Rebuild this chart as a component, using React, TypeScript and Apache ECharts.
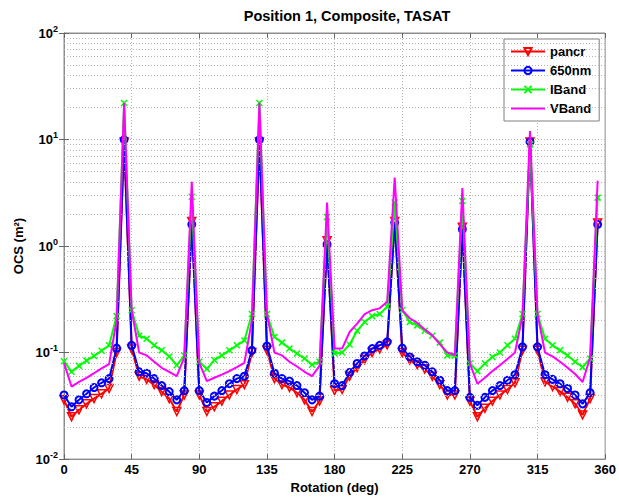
import React, { useEffect, useRef } from "react";
import * as echarts from "echarts";

const angles = [
  0, 5, 10, 15, 20, 25, 30, 35, 40, 45, 50, 55, 60, 65, 70, 75, 80, 85,
  90, 95, 100, 105, 110, 115, 120, 125, 130, 135, 140, 145, 150, 155, 160, 165, 170, 175,
  180, 185, 190, 195, 200, 205, 210, 215, 220, 225, 230, 235, 240, 245, 250, 255, 260, 265,
  270, 275, 280, 285, 290, 295, 300, 305, 310, 315, 320, 325, 330, 335, 340, 345, 350, 355,
];

const pancr = [
  0.036, 0.025, 0.029, 0.033, 0.037, 0.041, 0.046, 0.1, 9.5, 0.108, 0.06, 0.056, 0.05, 0.043, 0.037, 0.028, 0.04, 1.7,
  0.04, 0.028, 0.031, 0.035, 0.04, 0.045, 0.05, 0.1, 9.5, 0.105, 0.057, 0.05, 0.047, 0.042, 0.036, 0.028, 0.035, 1.12,
  0.044, 0.045, 0.06, 0.072, 0.086, 0.1, 0.108, 0.118, 1.7, 0.1, 0.085, 0.077, 0.07, 0.06, 0.05, 0.04, 0.04, 1.5,
  0.035, 0.025, 0.03, 0.035, 0.04, 0.045, 0.052, 0.105, 9.5, 0.105, 0.053, 0.048, 0.043, 0.038, 0.033, 0.026, 0.037, 1.65,
];

const nm650 = [
  0.04, 0.031, 0.036, 0.041, 0.047, 0.052, 0.057, 0.11, 10, 0.117, 0.066, 0.064, 0.057, 0.049, 0.043, 0.036, 0.044, 1.6,
  0.044, 0.034, 0.039, 0.044, 0.051, 0.057, 0.06, 0.105, 10, 0.115, 0.064, 0.057, 0.054, 0.049, 0.042, 0.036, 0.039, 1.04,
  0.051, 0.049, 0.065, 0.079, 0.093, 0.109, 0.117, 0.126, 1.66, 0.11, 0.091, 0.082, 0.076, 0.066, 0.055, 0.044, 0.044, 1.44,
  0.038, 0.032, 0.038, 0.044, 0.049, 0.055, 0.062, 0.113, 9.5, 0.113, 0.062, 0.056, 0.051, 0.046, 0.04, 0.033, 0.042, 1.6,
];

const iband = [
  0.083, 0.066, 0.075, 0.084, 0.093, 0.104, 0.117, 0.22, 22, 0.25, 0.144, 0.135, 0.117, 0.105, 0.092, 0.076, 0.094, 2.9,
  0.082, 0.07, 0.085, 0.094, 0.105, 0.117, 0.13, 0.23, 22, 0.23, 0.14, 0.124, 0.109, 0.098, 0.088, 0.077, 0.082, 1.87,
  0.098, 0.1, 0.119, 0.16, 0.194, 0.22, 0.23, 0.27, 2.56, 0.25, 0.194, 0.18, 0.16, 0.144, 0.124, 0.094, 0.094, 2.65,
  0.079, 0.067, 0.079, 0.091, 0.1, 0.117, 0.135, 0.23, 9, 0.23, 0.135, 0.117, 0.105, 0.094, 0.082, 0.073, 0.088, 2.85,
];

const vband = [
  0.08, 0.048, 0.053, 0.058, 0.064, 0.071, 0.078, 0.2, 22, 0.25, 0.1, 0.094, 0.082, 0.072, 0.066, 0.06, 0.09, 4.0,
  0.08, 0.054, 0.058, 0.062, 0.067, 0.073, 0.08, 0.2, 22, 0.23, 0.1, 0.094, 0.082, 0.074, 0.066, 0.06, 0.075, 2.56,
  0.109, 0.109, 0.156, 0.187, 0.23, 0.25, 0.26, 0.3, 4.4, 0.25, 0.21, 0.19, 0.165, 0.145, 0.12, 0.1, 0.095, 3.5,
  0.079, 0.051, 0.058, 0.067, 0.076, 0.087, 0.1, 0.22, 12, 0.23, 0.1, 0.092, 0.082, 0.072, 0.063, 0.053, 0.09, 4.1,
];

const xTicks = [0, 45, 90, 135, 180, 225, 270, 315, 360];
const minorLevels = [
  0.02, 0.03, 0.04, 0.05, 0.06, 0.07, 0.08, 0.09,
  0.2, 0.3, 0.4, 0.5, 0.6, 0.7, 0.8, 0.9,
  2, 3, 4, 5, 6, 7, 8, 9,
  20, 30, 40, 50, 60, 70, 80, 90,
];

const FONT = "Liberation Sans";

function pairs(vals: number[]) {
  return angles.map((a, i) => [a, vals[i]]);
}

export default function App() {
  const ref = useRef<HTMLDivElement>(null);
  useEffect(() => {
    if (!ref.current) return;
    const chart = echarts.init(ref.current, undefined, { renderer: "svg" });
    const gridStyle = { color: "#b4b4b4", type: [1, 2] as any, width: 1 };
    const supRich = {
      b: { fontFamily: FONT, fontWeight: "bold", fontSize: 13, color: "#000" },
      s: { fontFamily: FONT, fontWeight: "bold", fontSize: 9, color: "#000", verticalAlign: "top", padding: [0, 0, 9, 0] },
    };
    chart.setOption({
      animation: false,
      backgroundColor: "#fff",
      title: {
        text: "Position 1, Composite, TASAT",
        left: 342,
        textAlign: "center",
        top: 3,
        textStyle: { fontFamily: FONT, fontWeight: "bold", fontSize: 14.5, color: "#000" },
      },
      legend: {
        data: [
          { name: "pancr" },
          { name: "650nm" },
          { name: "IBand" },
          { name: "VBand", itemStyle: { opacity: 0 } },
        ],
        orient: "vertical",
        left: 504,
        top: 39,
        itemWidth: 34,
        itemHeight: 9,
        itemGap: 6,
        padding: [6, 8, 6, 6],
        backgroundColor: "#fff",
        borderColor: "#808080",
        borderWidth: 1,
        textStyle: { fontFamily: FONT, fontWeight: "bold", fontSize: 13, color: "#000" },
      },
      grid: {
        left: 64,
        right: 12,
        top: 33,
        bottom: 38,
        show: true,
        borderColor: "#8c8c8c",
        borderWidth: 1,
        backgroundColor: "#fff",
      },
      xAxis: [
        {
          type: "value",
          min: 0,
          max: 360,
          interval: 45,
          name: "Rotation (deg)",
          nameLocation: "middle",
          nameGap: 20,
          nameTextStyle: { fontFamily: FONT, fontWeight: "bold", fontSize: 13, color: "#000" },
          axisLine: { show: true, lineStyle: { color: "#8c8c8c" } },
          axisTick: { show: true, inside: true, length: 5, lineStyle: { color: "#666" } },
          axisLabel: {
            fontFamily: FONT, fontWeight: "bold", fontSize: 13, color: "#000", margin: 4,
            formatter: (v: number) => (xTicks.includes(v) ? String(v) : ""),
          },
          splitLine: { show: true, lineStyle: gridStyle },
        },
        {
          type: "value",
          position: "top",
          min: 0,
          max: 360,
          interval: 45,
          axisLine: { show: true, lineStyle: { color: "#8c8c8c" } },
          axisTick: { show: true, inside: true, length: 5, lineStyle: { color: "#666" } },
          axisLabel: { show: false },
          splitLine: { show: false },
        },
      ],
      yAxis: [
        {
          type: "log",
          logBase: 10,
          min: 0.01,
          max: 100,
          name: "OCS (m²)",
          nameLocation: "middle",
          nameGap: 36,
          nameRotate: 90,
          nameTextStyle: { fontFamily: FONT, fontWeight: "bold", fontSize: 13, color: "#000" },
          axisLine: { show: true, lineStyle: { color: "#8c8c8c" } },
          axisTick: { show: true, inside: true, length: 5, lineStyle: { color: "#666" } },
          axisLabel: {
            margin: 6,
            formatter: (v: number) => `{b|10}{s|${Math.round(Math.log10(v))}}`,
            rich: supRich,
          },
          splitLine: { show: true, lineStyle: gridStyle },
        },
        {
          type: "log",
          logBase: 10,
          min: 0.01,
          max: 100,
          position: "right",
          axisLine: { show: true, lineStyle: { color: "#8c8c8c" } },
          axisTick: { show: true, inside: true, length: 5, lineStyle: { color: "#666" } },
          axisLabel: { show: false },
          splitLine: { show: false },
        },
      ],
      series: [
        {
          name: "grid-minor",
          type: "line",
          data: [],
          silent: true,
          z: 1,
          markLine: {
            silent: true,
            symbol: "none",
            label: { show: false },
            lineStyle: gridStyle,
            data: minorLevels.map((v) => ({ yAxis: v })),
          },
        },
        {
          name: "pancr",
          type: "line",
          data: pairs(pancr),
          z: 3,
          lineStyle: { color: "#ff0000", width: 2 },
          symbol: "triangle",
          symbolRotate: 180,
          symbolSize: 8,
          itemStyle: { color: "rgba(255,255,255,0)", borderColor: "#ff0000", borderWidth: 1.5 },
        },
        {
          name: "650nm",
          type: "line",
          data: pairs(nm650),
          z: 4,
          lineStyle: { color: "#0000ff", width: 2 },
          symbol: "circle",
          symbolSize: 7,
          itemStyle: { color: "rgba(255,255,255,0)", borderColor: "#0000ff", borderWidth: 2 },
        },
        {
          name: "IBand",
          type: "line",
          data: pairs(iband),
          z: 5,
          lineStyle: { color: "#00ff00", width: 2 },
          symbol: "path://M0 0L10 10M10 0L0 10",
          symbolSize: 6,
          itemStyle: { color: "rgba(255,255,255,0)", borderColor: "#00ff00", borderWidth: 1.5 },
        },
        {
          name: "VBand",
          type: "line",
          data: pairs(vband),
          z: 6,
          lineStyle: { color: "#ff00ff", width: 2 },
          symbol: "none",
          itemStyle: { color: "#ff00ff" },
        },
      ],
    });
    return () => chart.dispose();
  }, []);
  return <div ref={ref} style={{ width: 619, height: 499, position: "absolute", left: 0, top: 0 }} />;
}
